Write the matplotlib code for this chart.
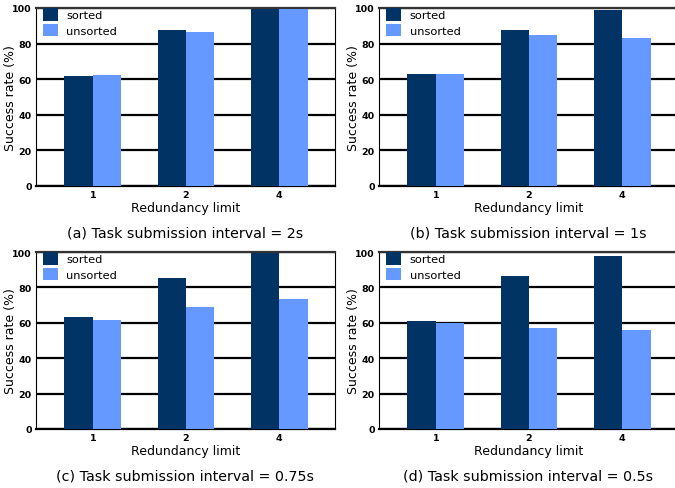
import matplotlib
matplotlib.use("Agg")
import matplotlib.pyplot as plt
import numpy as np

# redundancy limits on the x axis
categories = ["1", "2", "4"]

# success rate (%) per panel
sorted_a = [61.7, 87.6, 99.4]
unsorted_a = [62.3, 86.5, 99.4]
sorted_b = [62.9, 87.6, 98.9]
unsorted_b = [62.9, 84.8, 83.1]
sorted_c = [63.5, 85.5, 99.6]
unsorted_c = [61.8, 69.1, 73.6]
sorted_d = [60.8, 86.6, 97.9]
unsorted_d = [60.1, 57.3, 56.1]

captions = [
    "(a) Task submission interval = 2s",
    "(b) Task submission interval = 1s",
    "(c) Task submission interval = 0.75s",
    "(d) Task submission interval = 0.5s",
]
yticks = [0, 20, 40, 60, 80, 100]

dark = "#023365"
light = "#6699ff"

fig = plt.figure(figsize=(6.75, 4.89), dpi=100)

# axes rectangles in figure fractions (left, bottom, width, height)
rects = [
    (0.0533, 0.6176, 0.4430, 0.3640),
    (0.5615, 0.6176, 0.4430, 0.3640),
    (0.0533, 0.1207, 0.4430, 0.3619),
    (0.5615, 0.1207, 0.4430, 0.3619),
]
data = [(sorted_a, unsorted_a), (sorted_b, unsorted_b),
        (sorted_c, unsorted_c), (sorted_d, unsorted_d)]

x = np.arange(1, len(categories) + 1)
w = 0.305

for i, (rect, (s, u), cap) in enumerate(zip(rects, data, captions)):
    ax = fig.add_axes(rect)
    ax.bar(x - w / 2, s, w, color=dark, label="sorted", zorder=3)
    ax.bar(x + w / 2, u, w, color=light, label="unsorted", zorder=3)
    ax.set_xlim(0.39, 3.6)
    ax.set_ylim(0, 100)
    ax.set_yticks(yticks)
    ax.set_yticklabels([str(t) for t in yticks], fontsize=6.8, fontweight="bold")
    ax.set_xticks(x)
    ax.set_xticklabels(categories, fontsize=6.8, fontweight="bold")
    ax.tick_params(length=0, pad=3)
    ax.yaxis.grid(True, color="black", linewidth=1.6, zorder=1)
    ax.set_axisbelow(True)
    ax.spines["left"].set_linewidth(0.8)
    ax.spines["right"].set_linewidth(0.8)
    if i % 2 == 1:
        ax.spines["right"].set_visible(False)
    ax.spines["top"].set_linewidth(1.6)
    ax.spines["top"].set_color("#333333")
    ax.spines["bottom"].set_linewidth(1.6)
    ax.set_ylabel("Success rate (%)", fontsize=9)
    ax.yaxis.set_label_coords(-0.062, 0.5)
    ax.set_xlabel("Redundancy limit", fontsize=9, labelpad=1)
    ax.legend(loc="upper left", frameon=False, fontsize=8.2,
              handlelength=1.35, handleheight=1.35, labelspacing=0.25,
              handletextpad=0.75, borderaxespad=0.0, borderpad=0.0,
              bbox_to_anchor=(0.022, 1.0))
    ax.text(0.5, -0.222, cap, transform=ax.transAxes, ha="center",
            va="top", fontsize=10.3)

fig.savefig("out.png", dpi=100)
